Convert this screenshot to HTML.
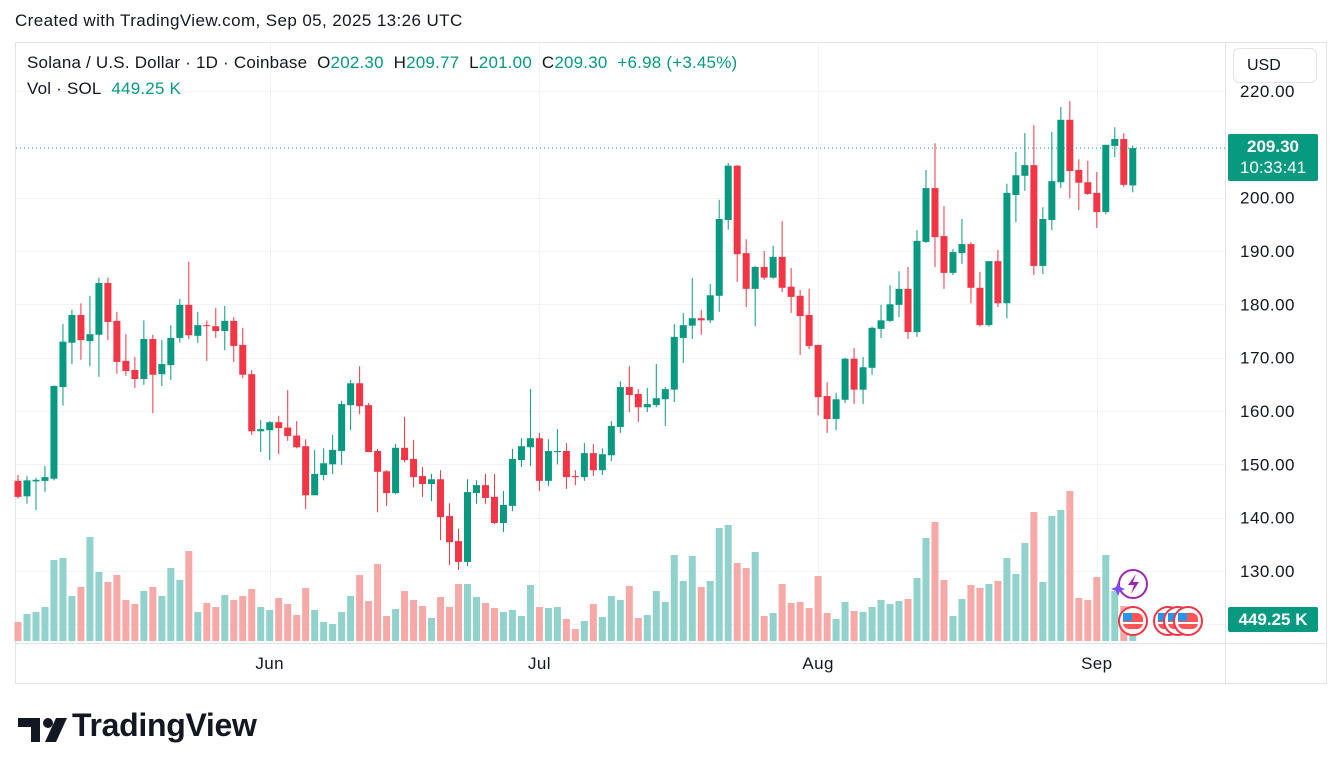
<!DOCTYPE html>
<html><head><meta charset="utf-8">
<style>
body{margin:0;background:#fff;font-family:"Liberation Sans",sans-serif;color:#131722;}
#wrap{position:relative;width:1341px;height:773px;overflow:hidden;}
.t{position:absolute;white-space:nowrap;}
</style></head>
<body>
<div id="wrap">
<div class="t" style="left:15px;top:11px;font-size:17px;letter-spacing:0.4px;">Created with TradingView.com, Sep 05, 2025 13:26 UTC</div>
<svg id="chart" width="1341" height="773" style="position:absolute;left:0;top:0"></svg>
<div class="t" style="left:27px;top:53px;font-size:17px;letter-spacing:0.2px;">Solana / U.S. Dollar · 1D · Coinbase&nbsp;&nbsp;<span style="color:#131722">O</span><span style="color:#089981">202.30</span>&nbsp;&nbsp;H<span style="color:#089981">209.77</span>&nbsp;&nbsp;L<span style="color:#089981">201.00</span>&nbsp;&nbsp;C<span style="color:#089981">209.30</span>&nbsp;&nbsp;<span style="color:#089981">+6.98 (+3.45%)</span></div>
<div class="t" style="left:27px;top:79px;font-size:17px;letter-spacing:0.2px;">Vol · SOL&nbsp;&nbsp;<span style="color:#089981">449.25 K</span></div>
<div class="t" style="left:1233px;top:48px;width:84px;height:35px;border:1px solid #e0e3eb;border-radius:6px;box-sizing:border-box;font-size:16px;line-height:33px;padding-left:13px;">USD</div>
<div class="t" style="left:1228px;top:134px;width:90px;height:47px;background:#089981;border-radius:2px;color:#fff;font-size:17px;line-height:21px;padding-top:2px;box-sizing:border-box;text-align:center;"><b style="font-weight:bold">209.30</b><br>10:33:41</div>
<div class="t" style="left:1228px;top:607px;width:90px;height:25px;background:#089981;border-radius:2px;color:#fff;font-size:17px;font-weight:bold;line-height:25px;text-align:center;">449.25 K</div>
<div class="t" style="left:18px;top:708px;height:40px;">
<svg width="50" height="40" style="position:absolute;left:0;top:4px"><path d="M0 6h22v24h-9V15H0z" fill="#131722"/><circle cx="30" cy="11" r="5" fill="#131722"/><path d="M38 6h11L38 30H27z" fill="#131722"/></svg>
<span style="position:absolute;left:54px;top:-1px;font-size:32px;font-weight:bold;letter-spacing:-0.3px">TradingView</span></div>
</div>
<script>
const opens=[146.9,144,146.8,146.9,147.3,164.5,172.8,178,173.1,174.3,184,176.9,169.4,167.7,166,173.5,166.9,168.6,173.7,179.9,174.1,176.1,175.9,175,176.9,172.4,166.9,156.2,156.4,157.9,156.9,155.4,153.4,144.2,148,150,152.5,161.1,165.2,161.1,152.5,148.7,144.6,153.1,151,147.8,146.3,147.2,140.3,135.6,131.7,144.6,146.1,143.9,139,142.2,150.8,153.2,154.9,146.9,152.3,152.5,147.8,147.6,152.1,148.9,151.7,157,164.5,163.2,160.7,161.1,162.2,164,173.7,176,177.4,177,181.6,195.8,206,189.6,182.9,187,185,188.9,183.3,181.6,178,172.4,162.8,158.5,162.1,169.8,164,168.1,175.4,176.9,179.9,182.9,174.8,191.7,201.8,192.8,185.9,189.6,191.3,183.1,176.1,188.1,180.2,200.5,204.1,206.1,187.2,195.8,202.9,214.6,205.2,202.9,200.9,197.3,209.7,211,202.3];
const highs=[148,147.8,147.5,149.7,164.8,176.3,179,180.2,181.6,185,185,178.6,174.4,170.1,177,174.3,173.3,176.1,181,188,178.6,177,179.3,179.7,177.6,175.6,167.7,158.3,158.1,159.1,163.9,158.1,154.7,152.7,153,155.5,161.9,165.8,168.4,161.5,152.9,148.9,153.8,158.9,154.6,149.5,148.2,148.9,142.7,137.9,147.2,147,148.2,148.2,145,152.9,154.9,164.1,155.9,154.7,156.6,154,148.9,154,153.8,153,158.1,165.6,168.4,164.1,164.3,168.8,164.5,176.3,178.4,184.9,178.9,183.8,199.6,206.5,206.1,192.2,187.2,190,191,195.6,186.8,182.7,182.9,172.4,165.4,163.4,170,171.8,170.1,175.8,179.9,183.6,186.2,187,193.9,205.2,210.2,198.4,190.4,196,191.7,186.1,188.1,190.2,202.6,208.6,212.1,213.6,198.2,212.3,217,218.1,207.2,206.9,204.8,209.9,213.2,212.1,209.77];
const lows=[143.6,142.6,141.4,144.8,147,161,168.8,169.6,168.4,166.4,173.3,167,166.6,164.3,164.9,159.6,164.7,165.8,172.8,173.5,172.8,169.4,173.7,171.4,169.2,166.2,155.5,152.3,150.8,151.9,154.4,153,141.6,144.2,147,148.2,149.9,156.4,159.4,152.3,141,142.2,144.4,150.4,145.7,143.9,143.1,135.8,131.1,130.2,130.9,142.6,142.6,138.8,137.3,141.2,149.5,149.7,145,145.9,150,145.4,146.1,146.9,147.8,148,150.6,155.9,159.8,157.9,159.8,160.7,157.2,161.7,169,173.5,174.3,176.5,178.6,194,184.2,179.5,175.9,184.6,184.8,182.3,178.4,170.5,171.6,159.2,155.9,156.4,161.5,161.3,161.3,166.8,173.7,176.7,177.6,173.5,173.9,191.5,187,182.9,185.5,187.6,180.2,175.8,175.8,179.5,177.4,195.4,201.3,185.5,185.7,193.9,201.8,199.9,197.7,200.5,194.3,196.9,207.6,202,201];
const closes=[143.9,147,147.1,147.6,164.7,173,178,173.3,174.4,184,176.7,169.2,167.5,166,173.5,166.8,168.8,173.7,179.9,174.2,176.1,175.9,175,176.9,172.2,166.8,156.2,156.6,157.9,156.8,155.3,153.2,144.2,148.2,150.2,152.7,161.3,165.2,160.9,152.3,148.6,144.6,153.1,150.8,147.6,146.3,147.2,140.1,135.4,131.7,144.8,146.1,143.7,139,142.4,151,153.4,154.9,146.9,152.5,152.5,147.6,147.6,152.1,148.9,151.9,157.2,164.5,163,160.7,161.3,162.4,164.1,173.9,176.1,177.4,177,181.7,196,206,189.4,182.9,187,185,188.9,183.1,181.4,177.8,172.2,162.6,158.5,162.2,169.8,164,168.2,175.6,177,180,182.9,174.8,191.9,201.8,192.6,185.9,189.8,191.3,183.1,176.1,188.1,180.2,200.9,204.2,206.1,187.2,196,203.1,214.6,205,202.8,200.7,197.3,209.9,211,202.4,209.3];
const volumesK=[380,540,580,680,1620,1660,900,1080,2080,1380,1180,1320,820,740,1000,1080,900,1460,1220,1800,580,760,680,920,820,900,1040,680,620,860,740,520,1060,620,380,340,580,900,1320,800,1540,500,640,1000,820,700,460,880,680,1140,1140,880,760,660,580,620,500,1120,680,660,680,440,240,400,740,480,900,820,1100,460,520,1000,780,1720,1200,1700,1080,1200,2260,2320,1560,1460,1780,500,560,1140,760,780,660,1300,560,440,780,600,580,680,820,740,800,840,1260,2060,2380,1220,500,840,1120,1060,1140,1200,1660,1340,1960,2580,1180,2500,2620,3000,860,820,1280,1720,1000,700,449.25];
const priceTicks=[220,210,200,190,180,170,160,150,140,130];
const monthLabels=["Jun","Jul","Aug","Sep"];
const monthIndex=[28,58,89,120];
const lastPrice=209.3;

const svg=document.getElementById('chart');
const NS='http://www.w3.org/2000/svg';
const X0=18,DX=8.99,PLOT_R=1225,VOL_BASE=641,VOL_PX_PER_K=0.05;
function xScale(i){return X0+i*DX;}
function yScale(p){return 91+(220-p)*5.3333;}
function vScale(v){return v*VOL_PX_PER_K;}
function mk(tag,attrs,parent){const e=document.createElementNS(NS,tag);for(const k in attrs)e.setAttribute(k,attrs[k]);(parent||svg).appendChild(e);return e;}

const frame=mk('rect',{x:15.5,y:42.5,width:1311,height:641,fill:'none',stroke:'#e0e3eb'});


const grid=mk('g',{});


priceTicks.forEach(p=>{const y=Math.round(yScale(p))+0.5;mk('line',{x1:16,x2:PLOT_R,y1:y,y2:y,stroke:'#f0f3fa'},grid);});
[120].forEach(p=>{const y=Math.round(yScale(p))+0.5;mk('line',{x1:16,x2:PLOT_R,y1:y,y2:y,stroke:'#f0f3fa'},grid);});
monthIndex.forEach(i=>{const x=Math.round(xScale(i))+0.5;mk('line',{x1:x,x2:x,y1:43,y2:643,stroke:'#f0f3fa'},grid);});
const tAx=mk('line',{x1:16,x2:1326,y1:643.5,y2:643.5,stroke:'#e0e3eb'});


const pAx=mk('line',{x1:1225.5,x2:1225.5,y1:43,y2:683,stroke:'#e0e3eb'});



priceTicks.forEach(p=>{
 const t=mk('text',{x:1240,y:yScale(p)+6,'font-size':17,'letter-spacing':0.5,fill:'#131722','font-family':'Liberation Sans, sans-serif'});
 t.textContent=p.toFixed(2);
 
 
});
monthLabels.forEach((m,k)=>{
 const t=mk('text',{x:xScale(monthIndex[k]),y:669,'font-size':17,'letter-spacing':0.4,fill:'#131722','text-anchor':'middle','font-family':'Liberation Sans, sans-serif'});
 t.textContent=m;
 
 
});

volumesK.forEach((v,i)=>{
 const up=closes[i]>=opens[i];const h=vScale(v);
 const r=mk('rect',{x:xScale(i)-3.5,y:VOL_BASE-h,width:7,height:h,fill:up?'#92d2cc':'#f7a9a7'});
 
 
});

opens.forEach((o,i)=>{
 const c=closes[i],up=c>=o,col=up?'#089981':'#f23645';
 const x=xScale(i);
 const g=mk('g',{});
 
 
 mk('line',{x1:x,x2:x,y1:yScale(highs[i]),y2:yScale(lows[i]),stroke:col,'stroke-width':1},g);
 const top=yScale(Math.max(o,c)),bot=yScale(Math.min(o,c));
 mk('rect',{x:x-3.5,y:top,width:7,height:Math.max(1,bot-top),fill:col},g);
});

const pl=mk('line',{x1:16,x2:PLOT_R,y1:yScale(lastPrice),y2:yScale(lastPrice),stroke:'#089981','stroke-dasharray':'1 3'});



const ev=mk('g',{});


mk('circle',{cx:1133,cy:584,r:14,fill:'#fff',stroke:'#9c27b0','stroke-width':2},ev);
mk('path',{d:'M1136 574l-8 11h6l-3 9 8-12h-6z',fill:'#9c27b0'},ev);
mk('path',{d:'M1118 582l2 5 5 2-5 2-2 5-2-5-5-2 5-2z',fill:'#7c4dff'},ev);
[1133,1168,1178,1188].forEach(cx=>{
 mk('circle',{cx:cx,cy:621,r:14,fill:'#fff',stroke:'#f23645','stroke-width':2},ev);
 mk('rect',{x:cx-10,y:613,width:20,height:16,rx:6,fill:'#f55'},ev);
 mk('rect',{x:cx-10,y:613,width:9,height:8,fill:'#2196f3'},ev);
 mk('rect',{x:cx-10,y:622,width:20,height:2,fill:'#fff'},ev);
});
</script>
</body></html>
